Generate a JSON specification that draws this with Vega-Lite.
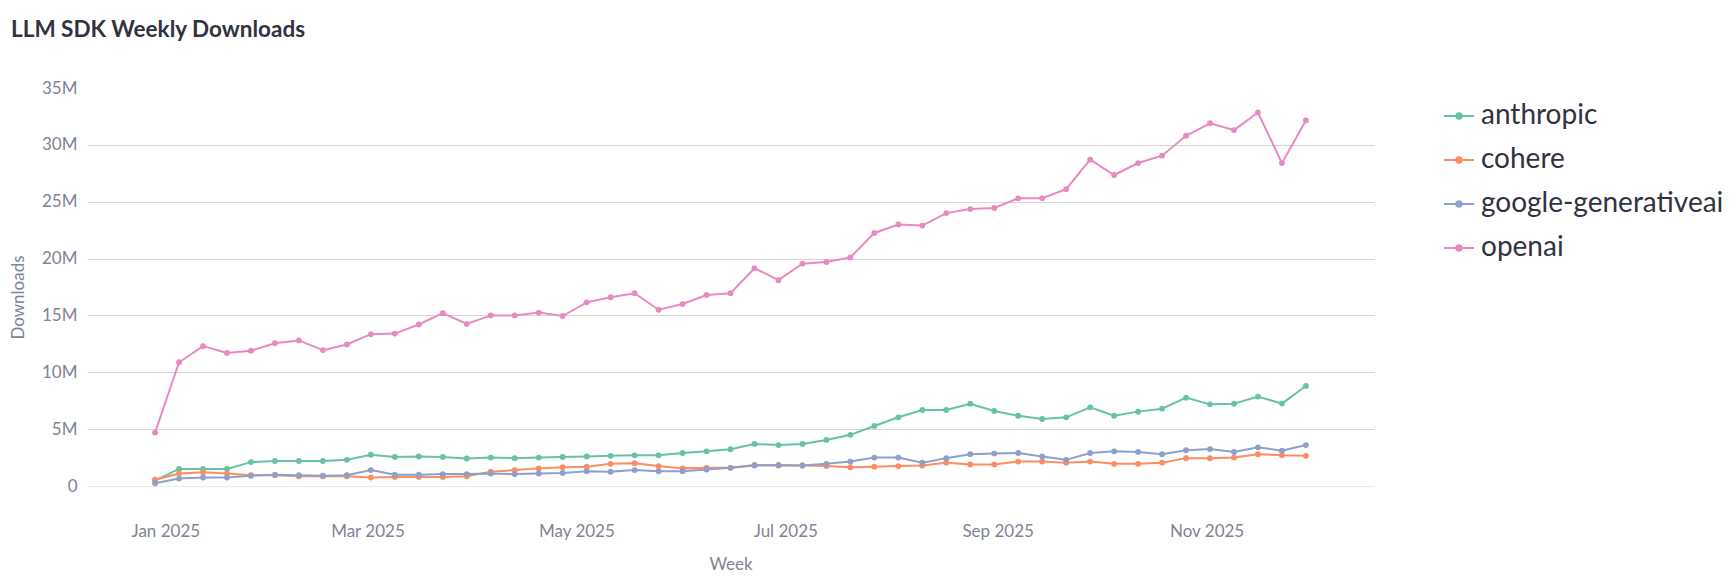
{
  "$schema": "https://vega.github.io/schema/vega-lite/v6.json",
  "width": 1287,
  "height": 398,
  "autosize": {"type": "none"},
  "padding": {"left": 87, "top": 88, "right": 362, "bottom": 99},
  "background": "white",
  "title": {"text": "LLM SDK Weekly Downloads", "anchor": "start", "frame": "group", "dx": -76, "offset": 20, "baseline": "alphabetic", "font": "Lato", "fontSize": 22.5, "fontWeight": "bold", "color": "#31333F"},
  "config": {"view": {"stroke": null}, "font": "Lato"},
  "data": {"values": [
{"week":"2024-12-29","package":"anthropic","downloads":500000},
{"week":"2025-01-05","package":"anthropic","downloads":1500000},
{"week":"2025-01-12","package":"anthropic","downloads":1500000},
{"week":"2025-01-19","package":"anthropic","downloads":1500000},
{"week":"2025-01-26","package":"anthropic","downloads":2100000},
{"week":"2025-02-02","package":"anthropic","downloads":2200000},
{"week":"2025-02-09","package":"anthropic","downloads":2200000},
{"week":"2025-02-16","package":"anthropic","downloads":2200000},
{"week":"2025-02-23","package":"anthropic","downloads":2300000},
{"week":"2025-03-02","package":"anthropic","downloads":2750000},
{"week":"2025-03-09","package":"anthropic","downloads":2550000},
{"week":"2025-03-16","package":"anthropic","downloads":2600000},
{"week":"2025-03-23","package":"anthropic","downloads":2550000},
{"week":"2025-03-30","package":"anthropic","downloads":2420000},
{"week":"2025-04-06","package":"anthropic","downloads":2500000},
{"week":"2025-04-13","package":"anthropic","downloads":2450000},
{"week":"2025-04-20","package":"anthropic","downloads":2500000},
{"week":"2025-04-27","package":"anthropic","downloads":2550000},
{"week":"2025-05-04","package":"anthropic","downloads":2600000},
{"week":"2025-05-11","package":"anthropic","downloads":2650000},
{"week":"2025-05-18","package":"anthropic","downloads":2700000},
{"week":"2025-05-25","package":"anthropic","downloads":2700000},
{"week":"2025-06-01","package":"anthropic","downloads":2900000},
{"week":"2025-06-08","package":"anthropic","downloads":3050000},
{"week":"2025-06-15","package":"anthropic","downloads":3230000},
{"week":"2025-06-22","package":"anthropic","downloads":3700000},
{"week":"2025-06-29","package":"anthropic","downloads":3600000},
{"week":"2025-07-06","package":"anthropic","downloads":3700000},
{"week":"2025-07-13","package":"anthropic","downloads":4050000},
{"week":"2025-07-20","package":"anthropic","downloads":4500000},
{"week":"2025-07-27","package":"anthropic","downloads":5280000},
{"week":"2025-08-03","package":"anthropic","downloads":6040000},
{"week":"2025-08-10","package":"anthropic","downloads":6680000},
{"week":"2025-08-17","package":"anthropic","downloads":6680000},
{"week":"2025-08-24","package":"anthropic","downloads":7240000},
{"week":"2025-08-31","package":"anthropic","downloads":6600000},
{"week":"2025-09-07","package":"anthropic","downloads":6180000},
{"week":"2025-09-14","package":"anthropic","downloads":5890000},
{"week":"2025-09-21","package":"anthropic","downloads":6040000},
{"week":"2025-09-28","package":"anthropic","downloads":6920000},
{"week":"2025-10-05","package":"anthropic","downloads":6180000},
{"week":"2025-10-12","package":"anthropic","downloads":6540000},
{"week":"2025-10-19","package":"anthropic","downloads":6800000},
{"week":"2025-10-26","package":"anthropic","downloads":7770000},
{"week":"2025-11-02","package":"anthropic","downloads":7180000},
{"week":"2025-11-09","package":"anthropic","downloads":7240000},
{"week":"2025-11-16","package":"anthropic","downloads":7860000},
{"week":"2025-11-23","package":"anthropic","downloads":7250000},
{"week":"2025-11-30","package":"anthropic","downloads":8800000},
{"week":"2024-12-29","package":"cohere","downloads":550000},
{"week":"2025-01-05","package":"cohere","downloads":1100000},
{"week":"2025-01-12","package":"cohere","downloads":1200000},
{"week":"2025-01-19","package":"cohere","downloads":1100000},
{"week":"2025-01-26","package":"cohere","downloads":950000},
{"week":"2025-02-02","package":"cohere","downloads":950000},
{"week":"2025-02-09","package":"cohere","downloads":850000},
{"week":"2025-02-16","package":"cohere","downloads":850000},
{"week":"2025-02-23","package":"cohere","downloads":850000},
{"week":"2025-03-02","package":"cohere","downloads":750000},
{"week":"2025-03-09","package":"cohere","downloads":800000},
{"week":"2025-03-16","package":"cohere","downloads":800000},
{"week":"2025-03-23","package":"cohere","downloads":800000},
{"week":"2025-03-30","package":"cohere","downloads":850000},
{"week":"2025-04-06","package":"cohere","downloads":1250000},
{"week":"2025-04-13","package":"cohere","downloads":1400000},
{"week":"2025-04-20","package":"cohere","downloads":1550000},
{"week":"2025-04-27","package":"cohere","downloads":1650000},
{"week":"2025-05-04","package":"cohere","downloads":1700000},
{"week":"2025-05-11","package":"cohere","downloads":1950000},
{"week":"2025-05-18","package":"cohere","downloads":2000000},
{"week":"2025-05-25","package":"cohere","downloads":1750000},
{"week":"2025-06-01","package":"cohere","downloads":1550000},
{"week":"2025-06-08","package":"cohere","downloads":1600000},
{"week":"2025-06-15","package":"cohere","downloads":1600000},
{"week":"2025-06-22","package":"cohere","downloads":1850000},
{"week":"2025-06-29","package":"cohere","downloads":1800000},
{"week":"2025-07-06","package":"cohere","downloads":1800000},
{"week":"2025-07-13","package":"cohere","downloads":1750000},
{"week":"2025-07-20","package":"cohere","downloads":1650000},
{"week":"2025-07-27","package":"cohere","downloads":1700000},
{"week":"2025-08-03","package":"cohere","downloads":1750000},
{"week":"2025-08-10","package":"cohere","downloads":1800000},
{"week":"2025-08-17","package":"cohere","downloads":2050000},
{"week":"2025-08-24","package":"cohere","downloads":1900000},
{"week":"2025-08-31","package":"cohere","downloads":1900000},
{"week":"2025-09-07","package":"cohere","downloads":2150000},
{"week":"2025-09-14","package":"cohere","downloads":2150000},
{"week":"2025-09-21","package":"cohere","downloads":2050000},
{"week":"2025-09-28","package":"cohere","downloads":2150000},
{"week":"2025-10-05","package":"cohere","downloads":1950000},
{"week":"2025-10-12","package":"cohere","downloads":1950000},
{"week":"2025-10-19","package":"cohere","downloads":2050000},
{"week":"2025-10-26","package":"cohere","downloads":2450000},
{"week":"2025-11-02","package":"cohere","downloads":2450000},
{"week":"2025-11-09","package":"cohere","downloads":2500000},
{"week":"2025-11-16","package":"cohere","downloads":2800000},
{"week":"2025-11-23","package":"cohere","downloads":2700000},
{"week":"2025-11-30","package":"cohere","downloads":2650000},
{"week":"2024-12-29","package":"google-generativeai","downloads":250000},
{"week":"2025-01-05","package":"google-generativeai","downloads":650000},
{"week":"2025-01-12","package":"google-generativeai","downloads":750000},
{"week":"2025-01-19","package":"google-generativeai","downloads":750000},
{"week":"2025-01-26","package":"google-generativeai","downloads":900000},
{"week":"2025-02-02","package":"google-generativeai","downloads":1000000},
{"week":"2025-02-09","package":"google-generativeai","downloads":950000},
{"week":"2025-02-16","package":"google-generativeai","downloads":900000},
{"week":"2025-02-23","package":"google-generativeai","downloads":950000},
{"week":"2025-03-02","package":"google-generativeai","downloads":1400000},
{"week":"2025-03-09","package":"google-generativeai","downloads":1000000},
{"week":"2025-03-16","package":"google-generativeai","downloads":1000000},
{"week":"2025-03-23","package":"google-generativeai","downloads":1050000},
{"week":"2025-03-30","package":"google-generativeai","downloads":1050000},
{"week":"2025-04-06","package":"google-generativeai","downloads":1100000},
{"week":"2025-04-13","package":"google-generativeai","downloads":1050000},
{"week":"2025-04-20","package":"google-generativeai","downloads":1100000},
{"week":"2025-04-27","package":"google-generativeai","downloads":1150000},
{"week":"2025-05-04","package":"google-generativeai","downloads":1300000},
{"week":"2025-05-11","package":"google-generativeai","downloads":1250000},
{"week":"2025-05-18","package":"google-generativeai","downloads":1400000},
{"week":"2025-05-25","package":"google-generativeai","downloads":1300000},
{"week":"2025-06-01","package":"google-generativeai","downloads":1300000},
{"week":"2025-06-08","package":"google-generativeai","downloads":1450000},
{"week":"2025-06-15","package":"google-generativeai","downloads":1600000},
{"week":"2025-06-22","package":"google-generativeai","downloads":1800000},
{"week":"2025-06-29","package":"google-generativeai","downloads":1850000},
{"week":"2025-07-06","package":"google-generativeai","downloads":1800000},
{"week":"2025-07-13","package":"google-generativeai","downloads":1950000},
{"week":"2025-07-20","package":"google-generativeai","downloads":2150000},
{"week":"2025-07-27","package":"google-generativeai","downloads":2500000},
{"week":"2025-08-03","package":"google-generativeai","downloads":2500000},
{"week":"2025-08-10","package":"google-generativeai","downloads":2050000},
{"week":"2025-08-17","package":"google-generativeai","downloads":2450000},
{"week":"2025-08-24","package":"google-generativeai","downloads":2800000},
{"week":"2025-08-31","package":"google-generativeai","downloads":2850000},
{"week":"2025-09-07","package":"google-generativeai","downloads":2900000},
{"week":"2025-09-14","package":"google-generativeai","downloads":2600000},
{"week":"2025-09-21","package":"google-generativeai","downloads":2300000},
{"week":"2025-09-28","package":"google-generativeai","downloads":2900000},
{"week":"2025-10-05","package":"google-generativeai","downloads":3050000},
{"week":"2025-10-12","package":"google-generativeai","downloads":3000000},
{"week":"2025-10-19","package":"google-generativeai","downloads":2800000},
{"week":"2025-10-26","package":"google-generativeai","downloads":3150000},
{"week":"2025-11-02","package":"google-generativeai","downloads":3250000},
{"week":"2025-11-09","package":"google-generativeai","downloads":3000000},
{"week":"2025-11-16","package":"google-generativeai","downloads":3400000},
{"week":"2025-11-23","package":"google-generativeai","downloads":3100000},
{"week":"2025-11-30","package":"google-generativeai","downloads":3600000},
{"week":"2024-12-29","package":"openai","downloads":4700000},
{"week":"2025-01-05","package":"openai","downloads":10880000},
{"week":"2025-01-12","package":"openai","downloads":12300000},
{"week":"2025-01-19","package":"openai","downloads":11700000},
{"week":"2025-01-26","package":"openai","downloads":11900000},
{"week":"2025-02-02","package":"openai","downloads":12550000},
{"week":"2025-02-09","package":"openai","downloads":12800000},
{"week":"2025-02-16","package":"openai","downloads":11950000},
{"week":"2025-02-23","package":"openai","downloads":12450000},
{"week":"2025-03-02","package":"openai","downloads":13350000},
{"week":"2025-03-09","package":"openai","downloads":13400000},
{"week":"2025-03-16","package":"openai","downloads":14200000},
{"week":"2025-03-23","package":"openai","downloads":15200000},
{"week":"2025-03-30","package":"openai","downloads":14250000},
{"week":"2025-04-06","package":"openai","downloads":15000000},
{"week":"2025-04-13","package":"openai","downloads":15000000},
{"week":"2025-04-20","package":"openai","downloads":15250000},
{"week":"2025-04-27","package":"openai","downloads":14950000},
{"week":"2025-05-04","package":"openai","downloads":16150000},
{"week":"2025-05-11","package":"openai","downloads":16600000},
{"week":"2025-05-18","package":"openai","downloads":16950000},
{"week":"2025-05-25","package":"openai","downloads":15500000},
{"week":"2025-06-01","package":"openai","downloads":16000000},
{"week":"2025-06-08","package":"openai","downloads":16800000},
{"week":"2025-06-15","package":"openai","downloads":16950000},
{"week":"2025-06-22","package":"openai","downloads":19150000},
{"week":"2025-06-29","package":"openai","downloads":18100000},
{"week":"2025-07-06","package":"openai","downloads":19550000},
{"week":"2025-07-13","package":"openai","downloads":19700000},
{"week":"2025-07-20","package":"openai","downloads":20100000},
{"week":"2025-07-27","package":"openai","downloads":22250000},
{"week":"2025-08-03","package":"openai","downloads":23000000},
{"week":"2025-08-10","package":"openai","downloads":22900000},
{"week":"2025-08-17","package":"openai","downloads":24000000},
{"week":"2025-08-24","package":"openai","downloads":24350000},
{"week":"2025-08-31","package":"openai","downloads":24450000},
{"week":"2025-09-07","package":"openai","downloads":25300000},
{"week":"2025-09-14","package":"openai","downloads":25300000},
{"week":"2025-09-21","package":"openai","downloads":26100000},
{"week":"2025-09-28","package":"openai","downloads":28700000},
{"week":"2025-10-05","package":"openai","downloads":27350000},
{"week":"2025-10-12","package":"openai","downloads":28400000},
{"week":"2025-10-19","package":"openai","downloads":29050000},
{"week":"2025-10-26","package":"openai","downloads":30800000},
{"week":"2025-11-02","package":"openai","downloads":31900000},
{"week":"2025-11-09","package":"openai","downloads":31300000},
{"week":"2025-11-16","package":"openai","downloads":32850000},
{"week":"2025-11-23","package":"openai","downloads":28400000},
{"week":"2025-11-30","package":"openai","downloads":32150000}
  ]},
  "mark": {"type": "line", "strokeWidth": 2, "point": {"filled": true, "size": 34}},
  "encoding": {
    "x": {
      "field": "week", "type": "temporal",
      "scale": {"type": "utc", "domain": [{"year": 2024, "month": 12, "date": 9, "hours": 3, "utc": true}, {"year": 2025, "month": 12, "date": 19, "hours": 21, "utc": true}]},
      "axis": {"title": "Week", "labelExpr": "utcFormat(datum.value, '%b %Y')", "tickCount": {"interval": "month", "step": 2}, "grid": false, "ticks": false, "domain": false, "labelFontSize": 17, "labelColor": "#808495", "labelPadding": 37, "labelFont": "Lato", "titleFont": "Lato", "titleFontSize": 17, "titleColor": "#808495", "titleFontWeight": "normal", "titleY": 78, "titleBaseline": "middle"}
    },
    "y": {
      "field": "downloads", "type": "quantitative",
      "scale": {"domain": [0, 35000000], "nice": false},
      "axis": {"title": "Downloads", "labelExpr": "datum.value === 0 ? '0' : format(datum.value / 1000000, 'd') + 'M'", "values": [0, 5000000, 10000000, 15000000, 20000000, 25000000, 30000000, 35000000], "ticks": false, "domain": false, "labelFontSize": 17, "labelColor": "#808495", "labelPadding": 10, "labelFont": "Lato", "titleFont": "Lato", "titleFontSize": 17, "titleColor": "#808495", "titleFontWeight": "normal", "titleX": -69, "titleY": 209, "titleAlign": "center", "titleBaseline": "middle", "gridColor": {"condition": {"test": "datum.value === 0", "value": "#e6eaf1"}, "value": "#d6d6d6"}, "gridOpacity": {"condition": {"test": "datum.value >= 35000000", "value": 0}, "value": 1}}
    },
    "color": {
      "field": "package", "type": "nominal",
      "scale": {"domain": ["anthropic", "cohere", "google-generativeai", "openai"], "range": ["#66c2a5", "#fc8d62", "#8da0cb", "#e78ac3"]},
      "legend": {"title": null, "orient": "none", "legendX": 1356, "legendY": 12, "padding": 0, "symbolType": "M-1,0H1M0.18,0A0.18,0.18,0,1,1,-0.18,0A0.18,0.18,0,1,1,0.18,0Z", "symbolSize": 900, "symbolStrokeWidth": 2, "labelFont": "Lato", "labelFontSize": 28, "labelColor": "#31333F", "labelOffset": 6, "labelLimit": 400, "rowPadding": 14, "encode": {"symbols": {"update": {"fill": {"scale": "color", "field": "value"}}}}}
    }
  }
}
